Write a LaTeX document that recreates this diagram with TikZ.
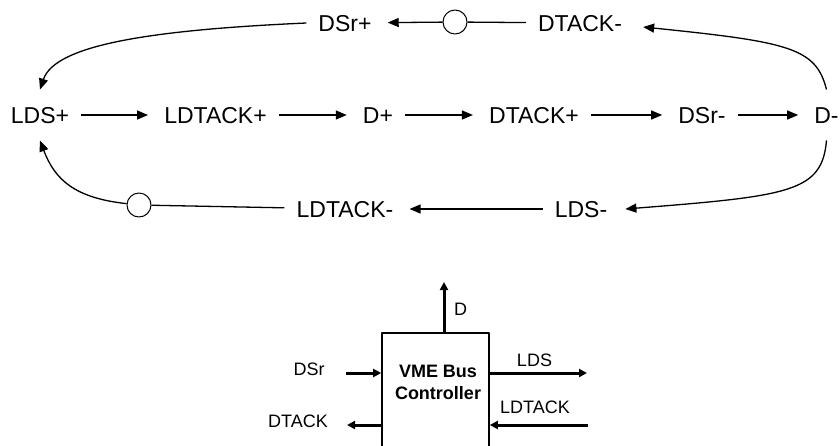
\documentclass[tikz,border=0pt]{standalone}
\usepackage{fontspec}
\setmainfont{Liberation Sans}
\usetikzlibrary{arrows.meta}

\tikzset{
    event/.style={inner xsep=12pt, inner ysep=17pt, text height=16.5pt, text depth=0pt,
        font=\fontsize{23}{27}\selectfont},
    token/.style={circle, draw, line width=1pt, minimum size=24pt, inner sep=0pt, fill=white},
    arc/.style={->, line width=1.3pt, shorten >=4pt},
    sig/.style={-{Triangle[length=8pt, width=8pt]}, line width=3pt},
    pin/.style={inner sep=0pt, text height=13pt, text depth=0pt, font=\fontsize{18}{22}\selectfont}
}

\begin{document}
\begin{tikzpicture}[x=1pt, y=-1pt, >={Triangle[length=11pt, width=9pt]}, line join=round]
    \useasboundingbox (0,0) rectangle (840,445);
    \clip (0,0) rectangle (840,445);

    % --- EVENTS ---
    % main row of the STG
    \node[event] (LDSp)    at (40,115)    {LDS+};
    \node[event] (LDTACKp) at (215.5,115) {LDTACK+};
    \node[event] (Dp)      at (378,115)   {D+};
    \node[event] (DTACKp)  at (534,115)   {DTACK+};
    \node[event] (DSrm)    at (702,115)   {DSr-};
    \node[event] (Dm)      at (826.5,115) {D-};

    % upper and lower branch
    \node[event] (DSrp)    at (345,23)  {DSr+};
    \node[event] (DTACKm)  at (580,23)  {DTACK-};
    \node[event] (LDTACKm) at (345,209) {LDTACK-};
    \node[event] (LDSm)    at (581,209) {LDS-};

    % places with a token
    \node[token] (circT) at (455,22)  {};
    \node[token] (circB) at (139,205) {};

    % --- ARCS ---
    \draw[arc] (LDSp) -- (LDTACKp);
    \draw[arc] (LDTACKp) -- (Dp);
    \draw[arc] (Dp) -- (DTACKp);
    \draw[arc] (DTACKp) -- (DSrm);
    \draw[arc] (DSrm) -- (Dm);

    % upper loop: D- to DTACK-, back through the token to DSr+
    \draw[arc, shorten >=0pt] (Dm.north) .. controls (816,48) and (790,42) .. ([xshift=9pt, yshift=-4pt]DTACKm.east);
    \draw[arc] (DTACKm) -- (circT) -- (DSrp);
    \draw[arc, shorten >=0pt] (DSrp.west) .. controls (150,30) and (55,45) .. (LDSp.north);

    % lower loop: D- to LDS-, through the token back to LDS+
    \draw[arc, shorten >=0pt] (Dm.south) .. controls (822,192) and (790,196) .. ([xshift=6pt]LDSm.east);
    \draw[arc] (LDSm) -- (LDTACKm);
    \draw[arc, shorten >=0pt] (LDTACKm) -- (circB) .. controls (75,198) and (55,180) .. (LDSp.south);

    % --- CONTROLLER ---
    \node[draw, line width=1.6pt, minimum width=107pt, minimum height=140pt, anchor=north] (ctrl) at (435.5,332) {};
    \node[align=center, inner sep=0pt, font=\fontsize{18}{22}\selectfont\bfseries] (ctrlName) at (438,382) {VME Bus\\Controller};

    % free ends of the signal wires
    \coordinate (dOut)     at (444,282);
    \coordinate (dsrIn)    at (346,373);
    \coordinate (dtackOut) at (347,425);
    \coordinate (ldsOut)   at (587,373);
    \coordinate (ldtackIn) at (588,425);

    \draw[sig] (ctrl.north -| dOut) -- (dOut);
    \draw[sig] (dsrIn) -- (dsrIn -| ctrl.west);
    \draw[sig] (dtackOut -| ctrl.west) -- (dtackOut);
    \draw[sig] (ldsOut -| ctrl.east) -- (ldsOut);
    \draw[sig] (ldtackIn) -- (ldtackIn -| ctrl.east);

    % --- LABELS ---
    \node[pin] (dLbl)      at (460.5,309) {D};
    \node[pin] (dsrLbl)    at (309,369)   {DSr};
    \node[pin, anchor=east] (dtackLbl) at (328,421) {DTACK};
    \node[pin] (ldsLbl)    at (534.5,360) {LDS};
    \node[pin] (ldtackLbl) at (535,407)   {LDTACK};

\end{tikzpicture}
\end{document}
